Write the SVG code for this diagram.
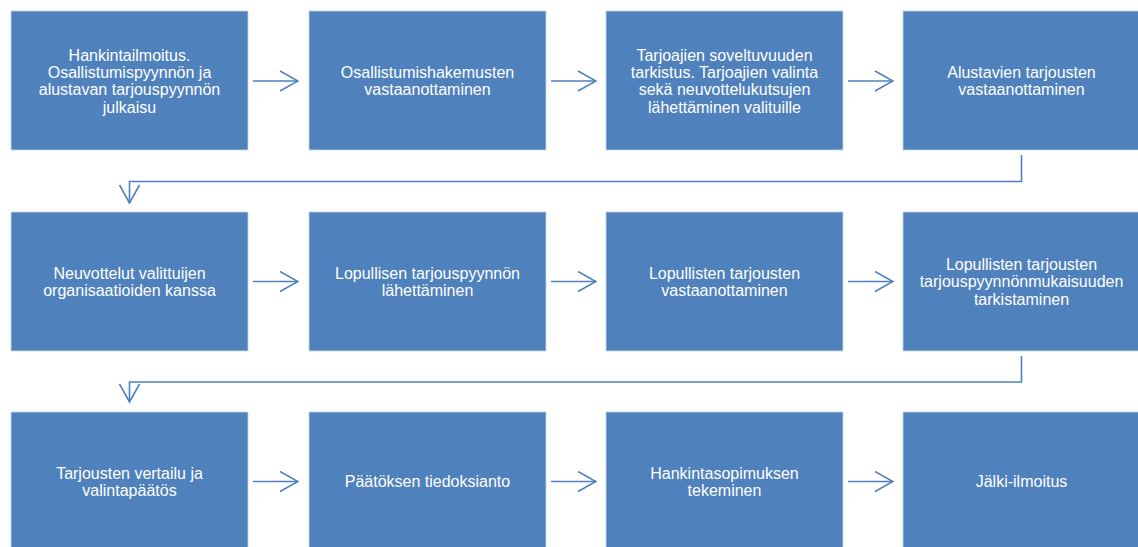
<svg xmlns="http://www.w3.org/2000/svg" width="1138" height="547" viewBox="0 0 1138 547">
<style>
.box{fill:#4F81BD;stroke:#C6D6EA;stroke-width:0.8}
.lbl{font-family:"Liberation Sans",Arial,sans-serif;font-size:16px;fill:#FFFFFF;text-anchor:middle}
.conn{fill:none;stroke:#4F81BD;stroke-width:1.6}
</style>
<defs>
<marker id="arr" viewBox="0 0 20 22" refX="19" refY="11" markerWidth="20" markerHeight="22" markerUnits="userSpaceOnUse" orient="auto">
<path d="M1,1 L19,11 L1,21" fill="none" stroke="#4F81BD" stroke-width="1.6"/>
</marker>
</defs>
<rect width="1138" height="547" fill="#FFFFFF"/>
<g id="connectors">
<line class="conn" x1="253" y1="81" x2="298" y2="81" marker-end="url(#arr)"/>
<line class="conn" x1="551" y1="81" x2="596" y2="81" marker-end="url(#arr)"/>
<line class="conn" x1="848" y1="81" x2="893" y2="81" marker-end="url(#arr)"/>
<polyline class="conn" points="1021.5,155 1021.5,181.5 129.5,181.5 129.5,203" marker-end="url(#arr)"/>
<line class="conn" x1="253" y1="281.5" x2="298" y2="281.5" marker-end="url(#arr)"/>
<line class="conn" x1="551" y1="281.5" x2="596" y2="281.5" marker-end="url(#arr)"/>
<line class="conn" x1="848" y1="281.5" x2="893" y2="281.5" marker-end="url(#arr)"/>
<polyline class="conn" points="1021.5,356 1021.5,382 129.5,382 129.5,402" marker-end="url(#arr)"/>
<line class="conn" x1="253" y1="481.5" x2="298" y2="481.5" marker-end="url(#arr)"/>
<line class="conn" x1="551" y1="481.5" x2="596" y2="481.5" marker-end="url(#arr)"/>
<line class="conn" x1="848" y1="481.5" x2="893" y2="481.5" marker-end="url(#arr)"/>
</g>
<g id="n1"><rect class="box" x="11" y="11" width="237" height="139"/>
<text class="lbl"><tspan x="129.5" y="60.8">Hankintailmoitus.</tspan><tspan x="129.5" y="78.1">Osallistumispyynnön ja</tspan><tspan x="129.5" y="95.4">alustavan tarjouspyynnön</tspan><tspan x="129.5" y="112.7">julkaisu</tspan></text></g>
<g id="n2"><rect class="box" x="309" y="11" width="237" height="139"/>
<text class="lbl"><tspan x="427.5" y="78.1">Osallistumishakemusten</tspan><tspan x="427.5" y="95.4">vastaanottaminen</tspan></text></g>
<g id="n3"><rect class="box" x="606" y="11" width="237" height="139"/>
<text class="lbl"><tspan x="724.5" y="60.8">Tarjoajien soveltuvuuden</tspan><tspan x="724.5" y="78.1">tarkistus. Tarjoajien valinta</tspan><tspan x="724.5" y="95.4">sekä neuvottelukutsujen</tspan><tspan x="724.5" y="112.7">lähettäminen valituille</tspan></text></g>
<g id="n4"><rect class="box" x="903" y="11" width="237" height="139"/>
<text class="lbl"><tspan x="1021.5" y="78.1">Alustavien tarjousten</tspan><tspan x="1021.5" y="95.4">vastaanottaminen</tspan></text></g>
<g id="n5"><rect class="box" x="11" y="212" width="237" height="139"/>
<text class="lbl"><tspan x="129.5" y="278.6">Neuvottelut valittuijen</tspan><tspan x="129.5" y="295.9">organisaatioiden kanssa</tspan></text></g>
<g id="n6"><rect class="box" x="309" y="212" width="237" height="139"/>
<text class="lbl"><tspan x="427.5" y="278.6">Lopullisen tarjouspyynnön</tspan><tspan x="427.5" y="295.9">lähettäminen</tspan></text></g>
<g id="n7"><rect class="box" x="606" y="212" width="237" height="139"/>
<text class="lbl"><tspan x="724.5" y="278.6">Lopullisten tarjousten</tspan><tspan x="724.5" y="295.9">vastaanottaminen</tspan></text></g>
<g id="n8"><rect class="box" x="903" y="212" width="237" height="139"/>
<text class="lbl"><tspan x="1021.5" y="269.9">Lopullisten tarjousten</tspan><tspan x="1021.5" y="287.2">tarjouspyynnönmukaisuuden</tspan><tspan x="1021.5" y="304.5">tarkistaminen</tspan></text></g>
<g id="n9"><rect class="box" x="11" y="412" width="237" height="139"/>
<text class="lbl"><tspan x="129.5" y="478.6">Tarjousten vertailu ja</tspan><tspan x="129.5" y="495.9">valintapäätös</tspan></text></g>
<g id="n10"><rect class="box" x="309" y="412" width="237" height="139"/>
<text class="lbl"><tspan x="427.5" y="487.3">Päätöksen tiedoksianto</tspan></text></g>
<g id="n11"><rect class="box" x="606" y="412" width="237" height="139"/>
<text class="lbl"><tspan x="724.5" y="478.6">Hankintasopimuksen</tspan><tspan x="724.5" y="495.9">tekeminen</tspan></text></g>
<g id="n12"><rect class="box" x="903" y="412" width="237" height="139"/>
<text class="lbl"><tspan x="1021.5" y="487.3">Jälki-ilmoitus</tspan></text></g>
</svg>
